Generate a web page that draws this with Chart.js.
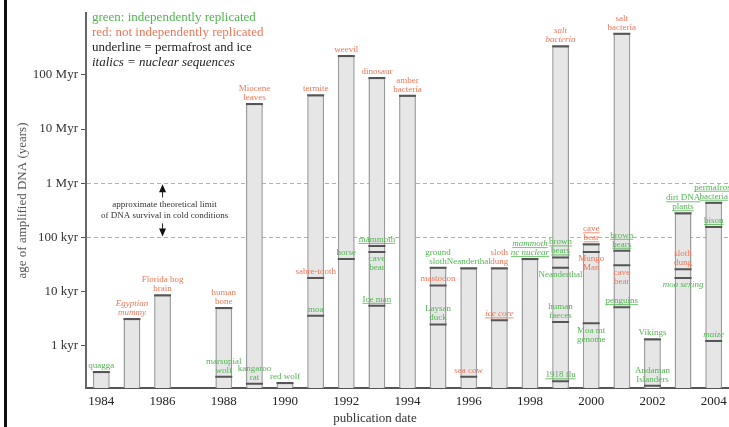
<!DOCTYPE html>
<html>
<head>
<meta charset="utf-8">
<script src="https://cdn.jsdelivr.net/npm/chart.js@4.4.0/dist/chart.umd.min.js"></script>
<style>
  html, body { margin: 0; padding: 0; background: #fff; }
  #wrap { position: relative; width: 729px; height: 427px; }
  #frame { position: absolute; left: 4px; top: 0; width: 3px; height: 427px; background: #111; }
</style>
</head>
<body>
<div id="wrap">
  <canvas id="dnaChart" width="729" height="427"></canvas>
  <div id="frame"></div>
</div>
<script>
// publication years (x categories)
const years = ["1984", "1985", "1986", "1987", "1988", "1989", "1990", "1991", "1992", "1993",
  "1994", "1995", "1996", "1997", "1998", "1999", "2000", "2001", "2002", "2003", "2004"];

// y axis ticks
const tickValues = [1e3, 1e4, 1e5, 1e6, 1e7, 1e8];
const tickLabels = ["1 kyr", "10 kyr", "100 kyr", "1 Myr", "10 Myr", "100 Myr"];

// each sample: year, name, age (years), replicated, permafrost/ice, nuclear
const sampleYear = ["1984", "1985", "1986", "1988", "1988", "1989", "1989", "1990", "1991", "1991",
  "1991", "1992", "1992", "1993", "1993", "1993", "1993", "1994", "1995", "1995",
  "1995", "1996", "1996", "1997", "1997", "1998", "1999", "1999", "1999", "1999",
  "1999", "2000", "2000", "2000", "2001", "2001", "2001", "2001", "2002", "2002",
  "2003", "2003", "2003", "2004", "2004", "2004"];
const sampleName = ["quagga", "Egyptian\nmummy", "Florida bog\nbrain", "human\nbone", "marsupial\nwolf",
  "Miocene\nleaves", "kangaroo\nrat", "red wolf", "termite", "sabre-tooth",
  "moa", "weevil", "horse", "dinosaur", "mammoth",
  "cave\nbear", "Ice man", "amber\nbacteria", "ground\nsloth", "mastodon",
  "Laysan\nduck", "Neanderthal", "sea cow", "sloth\ndung", "ice core",
  "mammoth\nnc nuclear", "salt\nbacteria", "brown\nbears", "Neanderthal", "human\nfaeces",
  "1918 flu", "cave\nbear", "Mungo\nMan", "Moa mt\ngenome", "salt\nbacteria",
  "brown\nbears", "cave\nbear", "penguins", "Vikings", "Andaman\nIslanders",
  "dirt DNA\nplants", "sloth\ndung", "moa sexing", "permafrost\nbacteria", "bison", "maize"];
const sampleAge = [330, 3140, 8600, 5000, 272, 29e6, 201, 208, 42e6, 18000,
  3600, 222e6, 40000, 87e6, 70000, 54000, 5500, 41e6, 27800, 13000,
  2500, 27000, 272, 27000, 2970, 40000, 336e6, 43000, 27800, 2770,
  223, 75000, 54000, 2620, 573e6, 57000, 30800, 5200, 1330, 185,
  280000, 26000, 17900, 438000, 156000, 1240];
const sampleReplicated = [true, false, false, false, true, false, true, true, false, false,
  true, false, true, false, true, true, true, false, true, false,
  true, true, false, false, false, true, false, true, true, true,
  true, false, false, true, false, true, false, true, true, true,
  true, false, true, true, true, true];
const samplePermafrost = [false, false, false, false, false, false, false, false, false, false,
  false, false, false, false, true, false, true, false, false, false,
  false, false, false, false, true, true, false, true, false, false,
  true, true, false, false, false, true, false, true, false, false,
  true, false, false, true, true, false];
const sampleNuclear = [false, true, false, false, false, false, false, false, false, false,
  false, false, false, false, false, false, false, false, false, false,
  false, false, false, false, true, true, true, false, false, false,
  false, false, false, false, false, false, false, false, false, false,
  false, false, true, false, false, true];

// labels drawn under their mark instead of above
const labelBelow = [false, false, false, false, false, false, false, false, false, false,
  false, false, false, false, false, true, false, false, false, false,
  false, false, false, false, false, false, false, false, true, false,
  false, false, true, true, false, false, true, false, false, false,
  false, false, true, false, false, false];

const legendLines = ["green: independently replicated", "red: not independently replicated",
  "underline = permafrost and ice", "italics = nuclear sequences"];

const Y_MIN = 168;
const Y_MAX = 1.38e9;
const GREEN = "#52b552";
const RED = "#ef7759";
const SERIF = "'Liberation Serif', 'DejaVu Serif', serif";

// bar height = oldest sample of that year
const barTop = years.map((yr) => {
  let top = null;
  sampleYear.forEach((sy, i) => {
    if (sy === yr && (top === null || sampleAge[i] > top)) top = sampleAge[i];
  });
  return top;
});

const markPoints = sampleYear.map((yr, i) => ({ x: yr, y: sampleAge[i] }));

function textWithUnderline(ctx, text, x, y, underline) {
  ctx.fillText(text, x, y);
  if (underline) {
    const w = ctx.measureText(text).width;
    ctx.lineWidth = 0.8;
    ctx.beginPath();
    ctx.moveTo(x - w / 2, y + 4);
    ctx.lineTo(x + w / 2, y + 4);
    ctx.stroke();
  }
}

const overlay = {
  id: "overlay",
  afterDatasetsDraw(chart) {
    const ctx = chart.ctx;
    const xs = chart.scales.x;
    const ys = chart.scales.y;
    ctx.save();
    ctx.textAlign = "center";
    ctx.textBaseline = "middle";

    // sample labels
    sampleName.forEach((name, i) => {
      const x = xs.getPixelForValue(years.indexOf(sampleYear[i]));
      const y = ys.getPixelForValue(sampleAge[i]);
      const lines = name.split("\n");
      const color = sampleReplicated[i] ? GREEN : RED;
      ctx.font = (sampleNuclear[i] ? "italic " : "") + "9px " + SERIF;
      ctx.fillStyle = color;
      ctx.strokeStyle = color;
      lines.forEach((ln, k) => {
        const cy = labelBelow[i] ? y + 7 + k * 9 : y - 6.5 - (lines.length - 1 - k) * 9;
        textWithUnderline(ctx, ln, x, cy, samplePermafrost[i]);
      });
    });

    // theoretical limit annotation
    const ax = xs.getPixelForValue(2);
    const yTop = ys.getPixelForValue(1e6);
    const yBot = ys.getPixelForValue(1e5);
    const mid = (yTop + yBot) / 2;
    ctx.fillStyle = "#333";
    ctx.strokeStyle = "#222";
    ctx.font = "9px " + SERIF;
    ctx.fillText("approximate theoretical limit", ax + 2, mid - 5.5);
    ctx.fillText("of DNA survival in cold conditions", ax + 2, mid + 5.5);
    ctx.lineWidth = 1;
    ctx.beginPath();
    ctx.moveTo(ax, mid - 13);
    ctx.lineTo(ax, yTop + 6);
    ctx.moveTo(ax, mid + 13);
    ctx.lineTo(ax, yBot - 6);
    ctx.stroke();
    ctx.fillStyle = "#111";
    ctx.beginPath();
    ctx.moveTo(ax, yTop + 1);
    ctx.lineTo(ax - 3.5, yTop + 9);
    ctx.lineTo(ax + 3.5, yTop + 9);
    ctx.closePath();
    ctx.moveTo(ax, yBot - 1);
    ctx.lineTo(ax - 3.5, yBot - 9);
    ctx.lineTo(ax + 3.5, yBot - 9);
    ctx.closePath();
    ctx.fill();

    // key in the top left corner
    ctx.textAlign = "left";
    const legendColors = [GREEN, RED, "#222", "#222"];
    legendLines.forEach((txt, k) => {
      ctx.fillStyle = legendColors[k];
      ctx.font = (k === 3 ? "italic " : "") + "13px " + SERIF;
      ctx.fillText(txt, xs.left + 6, 18 + k * 14.8);
    });

    // x axis title
    ctx.textAlign = "center";
    ctx.fillStyle = "#333";
    ctx.font = "13px " + SERIF;
    ctx.fillText("publication date", 375, 419);
    ctx.restore();
  },
};

document.addEventListener("DOMContentLoaded", function () {
  const ctx = document.getElementById("dnaChart").getContext("2d");
  new Chart(ctx, {
    type: "bar",
    data: {
      labels: years,
      datasets: [
        {
          type: "line",
          label: "samples",
          data: markPoints,
          showLine: false,
          pointStyle: "line",
          pointRadius: 8.5,
          pointHoverRadius: 8.5,
          pointBorderWidth: 2,
          pointBorderColor: "#555",
          order: 0,
        },
        {
          label: "age range",
          data: barTop.map((t) => (t === null ? null : [Y_MIN, t])),
          backgroundColor: "#e6e6e6",
          borderColor: "#9a9a9a",
          borderWidth: 1.5,
          barPercentage: 0.55,
          categoryPercentage: 1,
          order: 1,
        },
      ],
    },
    options: {
      responsive: false,
      animation: false,
      layout: { autoPadding: false, padding: { top: 13, right: 0, left: 0, bottom: 0 } },
      scales: {
        x: {
          type: "category",
          grid: { display: false, drawTicks: false },
          border: { display: true, color: "#555", width: 2 },
          ticks: {
            autoSkip: false,
            maxRotation: 0,
            padding: 6,
            color: "#222",
            font: { family: SERIF, size: 13 },
            callback: (val, i) => (i % 2 === 0 ? years[i] : ""),
          },
          afterFit: (scale) => {
            scale.height = 39;
            scale.paddingLeft = 0;
            scale.paddingRight = 0;
          },
        },
        y: {
          type: "logarithmic",
          min: Y_MIN,
          max: Y_MAX,
          afterBuildTicks: (scale) => {
            scale.ticks = tickValues.map((v) => ({ value: v }));
          },
          afterFit: (scale) => {
            scale.width = 86;
            scale.paddingTop = 0;
            scale.paddingBottom = 0;
          },
          grid: {
            drawOnChartArea: true,
            color: (c) => (c.tick && (c.tick.value === 1e5 || c.tick.value === 1e6) ? "#b0b0b0" : "rgba(0,0,0,0)"),
            tickColor: "#555",
            tickLength: 5,
            lineWidth: 1,
          },
          border: { display: true, color: "#666", width: 2, dash: [4, 3] },
          ticks: {
            color: "#333",
            padding: 3,
            font: { family: SERIF, size: 13 },
            callback: (val) => {
              const k = tickValues.indexOf(val);
              return k >= 0 ? tickLabels[k] : "";
            },
          },
          title: {
            display: true,
            text: "age of amplified DNA (years)",
            color: "#555",
            font: { family: SERIF, size: 13 },
            padding: { top: 15, bottom: 0 },
          },
        },
      },
      plugins: {
        legend: { display: false },
        tooltip: { enabled: false },
      },
    },
    plugins: [overlay],
  });
});
</script>
</body>
</html>
